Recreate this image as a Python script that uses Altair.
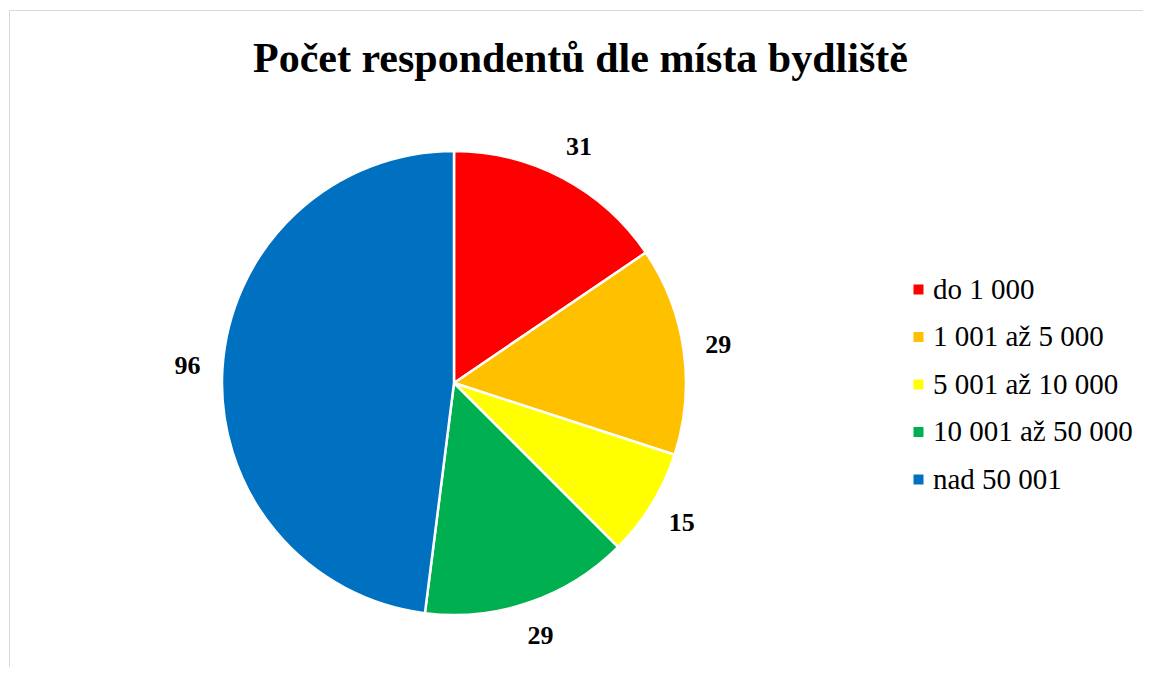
import altair as alt
import pandas as pd

categories = ["do 1 000", "1 001 až 5 000", "5 001 až 10 000", "10 001 až 50 000", "nad 50 001"]
values = [31, 29, 15, 29, 96]
colors = ["#FF0000", "#FFC000", "#FFFF00", "#00B050", "#0070C0"]

df = pd.DataFrame({"kategorie": categories, "pocet": values, "poradi": list(range(len(values)))})

W, H = 1134, 657
CX, CY, R = 445, 373, 232
FONT = "Liberation Serif"

base = alt.Chart(df).encode(
    theta=alt.Theta("pocet:Q", stack=True),
    order=alt.Order("poradi:Q"),
)

pie = base.mark_arc(outerRadius=R, stroke="white", strokeWidth=2.5).encode(
    x=alt.value(CX),
    y=alt.value(CY),
    color=alt.Color(
        "kategorie:N",
        sort=categories,
        scale=alt.Scale(domain=categories, range=colors),
        legend=alt.Legend(
            title=None,
            orient="none",
            legendX=895,
            legendY=265,
            symbolType="square",
            symbolSize=100,
            symbolStrokeWidth=0,
            labelFont=FONT,
            labelFontSize=29,
            labelColor="black",
            labelLimit=400,
            rowPadding=17.5,
            labelOffset=0,
        ),
    ),
)

labels = base.mark_text(radius=267, font=FONT, fontSize=26, fontWeight="bold", color="black").encode(
    x=alt.value(CX),
    y=alt.value(CY),
    text=alt.Text("pocet:Q"),
)

frame_df = pd.DataFrame({"k": [0]})
top_border = alt.Chart(frame_df).mark_rule(color="#D9D9D9", strokeWidth=1).encode(
    x=alt.value(0), x2=alt.value(W + 20), y=alt.value(0.5)
)
left_border = alt.Chart(frame_df).mark_rule(color="#D9D9D9", strokeWidth=1).encode(
    x=alt.value(0.5), y=alt.value(0), y2=alt.value(H + 20)
)

chart = (
    alt.layer(top_border, left_border, pie, labels)
    .properties(
        width=W,
        height=H,
        padding={"left": 1, "top": 2, "right": 0, "bottom": 0},
        title=alt.TitleParams(
            "Počet respondentů dle místa bydliště",
            font=FONT,
            fontSize=42,
            fontWeight="bold",
            color="black",
            anchor="start",
            frame="group",
            orient="top",
            offset=-71,
            dx=244,
        ),
    )
    .configure_view(strokeWidth=0)
    .configure(background="white", autosize=alt.AutoSizeParams(type="none"))
)

chart.save("out.html", embed_options={"renderer": "svg", "actions": False})
